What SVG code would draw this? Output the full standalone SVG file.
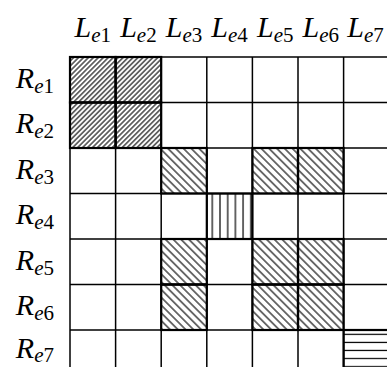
<svg xmlns="http://www.w3.org/2000/svg" width="387" height="367" viewBox="0 0 387 367">
<style>
  .lbl { font-family: "Liberation Serif", "Times New Roman", serif; font-size: 30px; font-style: italic; fill: #000; }
  .sub { font-size: 21px; }
  .num { font-style: normal; }
  .grid line { stroke: #000; stroke-width: 1.5; }
  .hc { stroke: #000; stroke-width: 2.2; }
</style>
<defs>
  <pattern id="ne" patternUnits="userSpaceOnUse" width="3.5" height="10" patternTransform="rotate(45)">
    <line x1="1.75" y1="-1" x2="1.75" y2="11" stroke="#000" stroke-width="1.1"/>
  </pattern>
  <pattern id="nw" patternUnits="userSpaceOnUse" width="5.5" height="10" patternTransform="rotate(-45)">
    <line x1="2.75" y1="-1" x2="2.75" y2="11" stroke="#000" stroke-width="1.1"/>
  </pattern>
  <pattern id="vl" patternUnits="userSpaceOnUse" x="208.45" y="0" width="7.7" height="10">
    <line x1="3.85" y1="-1" x2="3.85" y2="11" stroke="#000" stroke-width="1.2"/>
  </pattern>
  <pattern id="hl" patternUnits="userSpaceOnUse" x="0" y="330.3" width="10" height="8.1">
    <line x1="-1" y1="4" x2="11" y2="4" stroke="#000" stroke-width="1.2"/>
  </pattern>
</defs>
<rect width="387" height="367" fill="#fff"/>

<g id="col-labels">
  <g id="L1"><text class="lbl" x="92.8" y="37" text-anchor="middle">L<tspan class="sub" dy="5">e</tspan><tspan class="sub num">1</tspan></text></g>
  <g id="L2"><text class="lbl" x="138.4" y="37" text-anchor="middle">L<tspan class="sub" dy="5">e</tspan><tspan class="sub num">2</tspan></text></g>
  <g id="L3"><text class="lbl" x="184" y="37" text-anchor="middle">L<tspan class="sub" dy="5">e</tspan><tspan class="sub num">3</tspan></text></g>
  <g id="L4"><text class="lbl" x="229.6" y="37" text-anchor="middle">L<tspan class="sub" dy="5">e</tspan><tspan class="sub num">4</tspan></text></g>
  <g id="L5"><text class="lbl" x="275.2" y="37" text-anchor="middle">L<tspan class="sub" dy="5">e</tspan><tspan class="sub num">5</tspan></text></g>
  <g id="L6"><text class="lbl" x="320.8" y="37" text-anchor="middle">L<tspan class="sub" dy="5">e</tspan><tspan class="sub num">6</tspan></text></g>
  <g id="L7"><text class="lbl" x="365.5" y="37" text-anchor="middle">L<tspan class="sub" dy="5">e</tspan><tspan class="sub num">7</tspan></text></g>
</g>

<g id="row-labels">
  <g id="R1"><text class="lbl" x="54" y="87.5" text-anchor="end">R<tspan class="sub" dy="5">e</tspan><tspan class="sub num">1</tspan></text></g>
  <g id="R2"><text class="lbl" x="54" y="133" text-anchor="end">R<tspan class="sub" dy="5">e</tspan><tspan class="sub num">2</tspan></text></g>
  <g id="R3"><text class="lbl" x="54" y="178.5" text-anchor="end">R<tspan class="sub" dy="5">e</tspan><tspan class="sub num">3</tspan></text></g>
  <g id="R4"><text class="lbl" x="54" y="224" text-anchor="end">R<tspan class="sub" dy="5">e</tspan><tspan class="sub num">4</tspan></text></g>
  <g id="R5"><text class="lbl" x="54" y="269.5" text-anchor="end">R<tspan class="sub" dy="5">e</tspan><tspan class="sub num">5</tspan></text></g>
  <g id="R6"><text class="lbl" x="54" y="315" text-anchor="end">R<tspan class="sub" dy="5">e</tspan><tspan class="sub num">6</tspan></text></g>
  <g id="R7"><text class="lbl" x="54" y="358" text-anchor="end">R<tspan class="sub" dy="4">e</tspan><tspan class="sub num">7</tspan></text></g>
</g>

<g id="grid" class="grid">
  <line x1="70" y1="57" x2="70" y2="367"/>
  <line x1="115.6" y1="57" x2="115.6" y2="367"/>
  <line x1="161.2" y1="57" x2="161.2" y2="367"/>
  <line x1="206.8" y1="57" x2="206.8" y2="367"/>
  <line x1="252.4" y1="57" x2="252.4" y2="367"/>
  <line x1="298" y1="57" x2="298" y2="367"/>
  <line x1="343.6" y1="57" x2="343.6" y2="367"/>
  <line x1="70" y1="57" x2="387" y2="57"/>
  <line x1="70" y1="102.5" x2="387" y2="102.5"/>
  <line x1="70" y1="148" x2="387" y2="148"/>
  <line x1="70" y1="193.5" x2="387" y2="193.5"/>
  <line x1="70" y1="239" x2="387" y2="239"/>
  <line x1="70" y1="284.5" x2="387" y2="284.5"/>
  <line x1="70" y1="330" x2="387" y2="330"/>
</g>

<g id="cells">
  <g id="c11"><rect class="hc" x="70" y="57" width="45.6" height="45.5" fill="url(#ne)"/></g>
  <g id="c12"><rect class="hc" x="115.6" y="57" width="45.6" height="45.5" fill="url(#ne)"/></g>
  <g id="c21"><rect class="hc" x="70" y="102.5" width="45.6" height="45.5" fill="url(#ne)"/></g>
  <g id="c22"><rect class="hc" x="115.6" y="102.5" width="45.6" height="45.5" fill="url(#ne)"/></g>

  <g id="c33"><rect class="hc" x="161.2" y="148" width="45.6" height="45.5" fill="url(#nw)"/></g>
  <g id="c35"><rect class="hc" x="252.4" y="148" width="45.6" height="45.5" fill="url(#nw)"/></g>
  <g id="c36"><rect class="hc" x="298" y="148" width="45.6" height="45.5" fill="url(#nw)"/></g>
  <g id="c53"><rect class="hc" x="161.2" y="239" width="45.6" height="45.5" fill="url(#nw)"/></g>
  <g id="c55"><rect class="hc" x="252.4" y="239" width="45.6" height="45.5" fill="url(#nw)"/></g>
  <g id="c56"><rect class="hc" x="298" y="239" width="45.6" height="45.5" fill="url(#nw)"/></g>
  <g id="c63"><rect class="hc" x="161.2" y="284.5" width="45.6" height="45.5" fill="url(#nw)"/></g>
  <g id="c65"><rect class="hc" x="252.4" y="284.5" width="45.6" height="45.5" fill="url(#nw)"/></g>
  <g id="c66"><rect class="hc" x="298" y="284.5" width="45.6" height="45.5" fill="url(#nw)"/></g>

  <g id="c44"><rect class="hc" x="206.8" y="193.5" width="45.6" height="45.5" fill="url(#vl)"/></g>
  <g id="c77"><rect class="hc" x="343.6" y="330" width="45.6" height="45.5" fill="url(#hl)"/></g>
</g>
</svg>
